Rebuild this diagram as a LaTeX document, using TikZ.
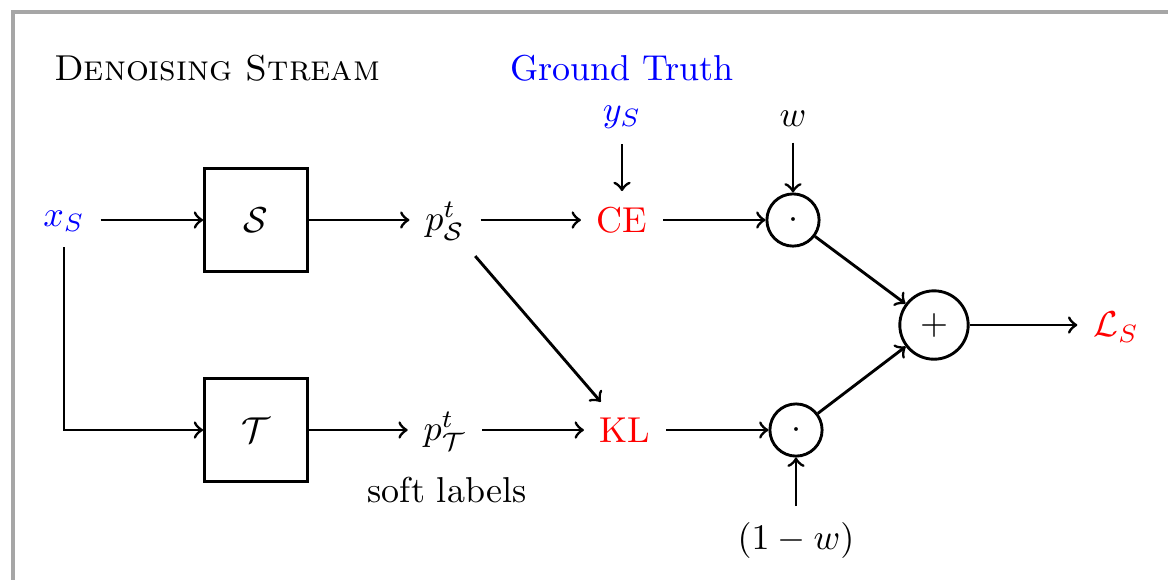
\documentclass[tikz,border=0pt]{standalone}
\usetikzlibrary{arrows}
\begin{document}
\begin{tikzpicture}[x=0.2778pt,y=-0.2778pt,
  conn/.style={->,thick},
  boxnode/.style={draw,thick,minimum size=28.6pt,inner sep=0pt},
  opnode/.style={draw,thick,circle,inner sep=0pt,minimum size=14.5pt},
  sumnode/.style={draw,thick,circle,inner sep=0pt,minimum size=19pt},
  txt/.style={inner sep=4.2pt}]
\useasboundingbox (0,0) rectangle (1168,579);
\begin{scope}
\clip (0,0) rectangle (1168,579);
\draw[line width=0.85pt,gray!70] (13,12) rectangle (1250,650);
\end{scope}
\node (title) at (217,68) {\textsc{Denoising Stream}};
\node[blue] (gt) at (622,68) {Ground Truth};
\node[txt,blue] (ys) at (622,117) {$y_S$};
\node[txt] (w) at (793,119) {$w$};
\node[txt,blue] (xs) at (64,221) {$x_S$};
\node[boxnode] (S) at (256,220) {$\mathcal{S}$};
\node[boxnode] (T) at (256,430) {$\mathcal{T}$};
\node[txt] (pS) at (445,221) {$p^t_{\mathcal{S}}$};
\node[txt] (pT) at (445,431) {$p^t_{\mathcal{T}}$};
\node[txt,red] (CE) at (622,220) {CE};
\node[txt,red] (KL) at (625,430) {KL};
\node[opnode] (d1) at (793,220) {$\cdot$};
\node[opnode] (d2) at (796,430) {$\cdot$};
\node[sumnode] (sum) at (934,325) {$+$};
\node[txt,red] (L) at (1116,327) {$\mathcal{L}_S$};
\node (soft) at (447,490) {soft labels};
\node[txt] (omw) at (796,540) {$(1-w)$};
\draw[conn] (xs.east |- S) -- (S);
\draw[conn] (xs.south) |- (T.west);
\draw[conn] (S) -- (S -| pS.west);
\draw[conn] (T) -- (T -| pT.west);
\draw[conn] (pS.east |- CE) -- (CE);
\draw[conn] (pT.east |- KL) -- (KL);
\draw[conn] (pS) -- (KL);
\draw[conn] (ys) -- (CE);
\draw[conn] (CE) -- (d1);
\draw[conn] (KL) -- (d2);
\draw[conn] (w) -- (d1);
\draw[conn] (omw) -- (d2);
\draw[conn] (d1) -- (sum);
\draw[conn] (d2) -- (sum);
\draw[conn] (sum) -- (sum -| L.west);
\end{tikzpicture}
\end{document}
